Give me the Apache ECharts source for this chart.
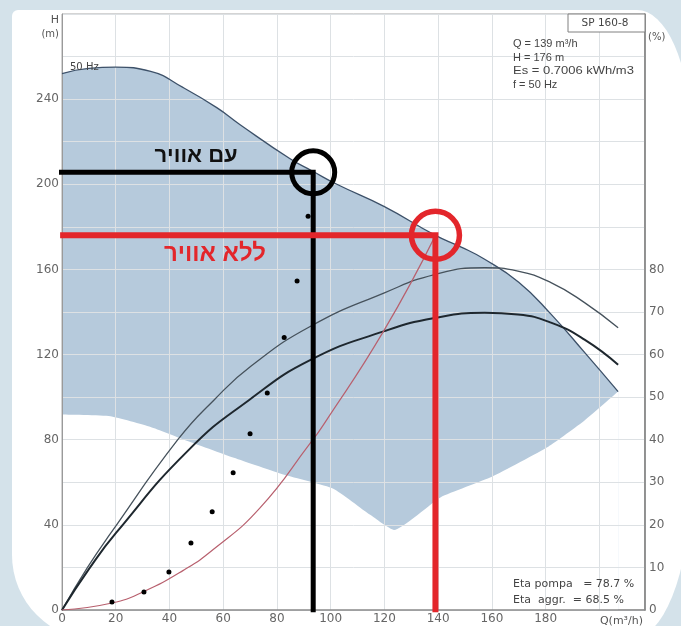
<!DOCTYPE html>
<html>
<head>
<meta charset="utf-8">
<title>SP 160-8</title>
<script src="https://cdn.jsdelivr.net/npm/echarts@6.0.0/dist/echarts.min.js"></script>
<style>
  html, body { margin: 0; padding: 0; background: #d4e2ea; overflow: hidden; }
  .card {
    position: absolute; left: 12px; top: 10px; width: 678px; height: 630px;
    background: #fff;
    border-radius: 6px 53px 60px 85px / 6px 120px 150px 85px;
  }
  #chart { position: absolute; left: 0; top: 0; width: 681px; height: 626px; }
</style>
</head>
<body>
<div class="card"></div>
<div id="chart"></div>
<script>
// pump curve 50 Hz, Q (m3/h) / H (m)
const headQ = [0, 10, 20, 33, 45, 57.6, 66.3, 84.9, 93.5, 102.3, 120, 139, 148.6, 157, 170, 182, 194.5, 207];
const headH = [252, 254.5, 255, 253, 245.5, 236, 228, 212, 206, 200, 189.5, 176, 170.5, 165, 154, 139, 121, 102.6];

// lower edge of the shaded working range
const lowQ = [0, 18, 33, 45.5, 64, 82.7, 101, 114.7, 123.6, 141, 160, 181, 194.5, 207];
const lowH = [91.8, 91, 86, 80, 71.5, 63.5, 57, 44.7, 37.6, 53, 62.6, 76.7, 89, 102.6];

// efficiency curves (%)
const etaPumpQ = [0, 9.5, 18.2, 43.1, 56.7, 70.4, 92.7, 120, 138.7, 157.3, 169.7, 182, 194.5, 207];
const etaPump = [0, 10, 18.1, 40, 49.4, 57.3, 66.7, 74.5, 78.8, 80.4, 79.6, 76.9, 72.2, 66.3];
const etaAggrQ = [0, 10, 20.1, 47, 69.8, 92.7, 120, 138.7, 157.3, 169.7, 182, 194.5, 207];
const etaAggr = [0, 9.6, 18.1, 37.5, 49.4, 58.8, 65.5, 68.6, 69.8, 69.4, 67.5, 63.5, 57.6];

// system curve and measured points
const sysQ = [0, 18.6, 30.3, 45, 56.4, 73.7, 92.4, 97.3, 119.7, 139];
const sysH = [0, 3.3, 8.6, 18.5, 28.5, 48, 78.4, 87, 131, 176];
const dotQ = [18.6, 30.5, 39.8, 48, 55.9, 63.7, 70, 76.4, 82.7, 87.5, 91.6];
const dotH = [3.8, 8.5, 17.9, 31.5, 46.1, 64.5, 82.8, 102, 128, 154.6, 185];

// duty points
const withAir = [93.5, 205.6];
const noAir = [139, 176];

const infoLines = ['Q = 139 m\u00b3/h', 'H = 176 m', 'Es = 0.7006 kWh/m3', 'f = 50 Hz'];
const etaLines = ['Eta pompa   = 78.7 %', 'Eta  aggr.  = 68.5 %'];

const pairs = (xs, ys) => xs.map((x, i) => [x, ys[i]]);
const SANS = '"DejaVu Sans", "Liberation Sans", sans-serif';
const ARIAL = '"Liberation Sans", Arial, "DejaVu Sans", sans-serif';
const font = (size, bold, family) => (bold ? 'bold ' : '') + size + 'px ' + (family || SANS);

const txt = (x, y, text, size, color, align, bold, family, extra) => Object.assign({
  type: 'text', x: x, y: y, z: 20,
  style: { text: text, fill: color, font: font(size, bold, family), textAlign: align, textVerticalAlign: 'middle' }
}, extra || {});

const tickLabel = { color: '#666', fontSize: 12, fontFamily: SANS };

const chartDom = echarts.init(document.getElementById('chart'));
chartDom.setOption({
  animation: false,
  backgroundColor: 'transparent',
  grid: { left: 62, right: 36, top: 14, bottom: 16, show: true, borderColor: '#a8a8a8', borderWidth: 1 },
  xAxis: {
    type: 'value', min: 0, max: 217, interval: 20, z: 3,
    axisLine: { lineStyle: { color: '#8a8a8a', width: 1.5 } },
    axisTick: { show: false },
    axisLabel: Object.assign({ margin: 3, formatter: v => (v % 20 === 0 && v < 200 ? String(v) : '') }, tickLabel),
    splitLine: { lineStyle: { color: '#dde1e4' } }
  },
  yAxis: [
    {
      type: 'value', min: 0, max: 280, interval: 20, z: 3,
      axisLine: { show: true, lineStyle: { color: '#9a9a9a' } },
      axisTick: { show: false },
      axisLabel: Object.assign({ margin: 3, formatter: v => (v % 40 === 0 && v <= 240 ? String(v) : '') }, tickLabel),
      splitLine: { lineStyle: { color: '#dde1e4' } }
    },
    {
      type: 'value', position: 'right', min: 0, max: 140, interval: 10, z: 3,
      axisLine: { show: true, lineStyle: { color: '#7a7a7a', width: 1.5 } },
      axisTick: { show: false },
      axisLabel: Object.assign({ margin: 4, formatter: v => (v <= 80 ? String(v) : '') }, tickLabel),
      splitLine: { show: false }
    }
  ],
  graphic: [
    { type: 'rect', z: 20, shape: { x: 568, y: 14, width: 77, height: 18 }, style: { fill: '#fff', stroke: '#808080', lineWidth: 1 } },
    txt(605, 23, 'SP 160-8', 10.5, '#444', 'center'),
    txt(513, 44, infoLines[0], 11, '#444', 'left', false, ARIAL),
    txt(513, 57.5, infoLines[1], 11, '#444', 'left', false, ARIAL),
    txt(513, 71, infoLines[2], 11, '#444', 'left', false, ARIAL, { scaleX: 1.18 }),
    txt(513, 84.5, infoLines[3], 11, '#444', 'left', false, ARIAL),
    txt(513, 584, etaLines[0], 11, '#444', 'left'),
    txt(513, 600, etaLines[1], 11, '#444', 'left'),
    txt(59, 20, 'H', 11, '#555', 'right'),
    txt(59, 34, '(m)', 10, '#555', 'right'),
    txt(648, 37, '(%)', 10, '#555', 'left'),
    txt(643, 621, 'Q(m\u00b3/h)', 11, '#555', 'right'),
    txt(70, 67, '50 Hz', 10, '#444', 'left'),
    txt(196, 156, 'עם אוויר', 22, '#111', 'center', true, ARIAL),
    txt(215, 254, 'ללא אוויר', 24, '#e3262b', 'center', true, ARIAL)
  ],
  series: [
    {
      name: 'range', type: 'line', smooth: true, symbol: 'none', silent: true, z: 1,
      data: pairs(headQ, headH),
      lineStyle: { width: 0 },
      areaStyle: { color: '#b6cadc', opacity: 1 }
    },
    {
      name: 'range-low', type: 'line', smooth: 0.15, symbol: 'none', silent: true, z: 2,
      data: pairs(lowQ, lowH),
      lineStyle: { width: 0 },
      areaStyle: { color: '#ffffff', opacity: 1 }
    },
    {
      name: 'H 50 Hz', type: 'line', smooth: true, symbol: 'none', silent: true, z: 4,
      data: pairs(headQ, headH),
      lineStyle: { color: '#3d5169', width: 1.3 }
    },
    {
      name: 'Eta pompa', type: 'line', yAxisIndex: 1, smooth: true, symbol: 'none', silent: true, z: 4,
      data: pairs(etaPumpQ, etaPump),
      lineStyle: { color: '#46525c', width: 1.3 }
    },
    {
      name: 'Eta aggr', type: 'line', yAxisIndex: 1, smooth: true, symbol: 'none', silent: true, z: 4,
      data: pairs(etaAggrQ, etaAggr),
      lineStyle: { color: '#1e272e', width: 2 }
    },
    {
      name: 'system', type: 'line', smooth: true, symbol: 'none', silent: true, z: 4,
      data: pairs(sysQ, sysH),
      lineStyle: { color: '#b8606e', width: 1.2 }
    },
    {
      name: 'points', type: 'scatter', symbolSize: 5, silent: true, z: 5,
      data: pairs(dotQ, dotH),
      itemStyle: { color: '#000', opacity: 1 }
    },
    {
      name: 'with air', type: 'line', symbol: 'none', silent: true, z: 6, clip: false,
      data: [[-2.6, withAir[1]], withAir, [withAir[0], -1]],
      lineStyle: { color: '#000', width: 5, join: 'miter' }
    },
    {
      name: 'with air mark', type: 'scatter', symbolSize: 43, silent: true, z: 7, clip: false,
      data: [withAir],
      itemStyle: { color: 'rgba(0,0,0,0)', borderColor: '#000', borderWidth: 5, opacity: 1 }
    },
    {
      name: 'no air', type: 'line', symbol: 'none', silent: true, z: 6, clip: false,
      data: [[-0.7, noAir[1]], noAir, [noAir[0], -1]],
      lineStyle: { color: '#e3262b', width: 6, join: 'miter' }
    },
    {
      name: 'no air mark', type: 'scatter', symbolSize: 48, silent: true, z: 7, clip: false,
      data: [noAir],
      itemStyle: { color: 'rgba(0,0,0,0)', borderColor: '#e3262b', borderWidth: 5.5, opacity: 1 }
    }
  ]
});
</script>
</body>
</html>
